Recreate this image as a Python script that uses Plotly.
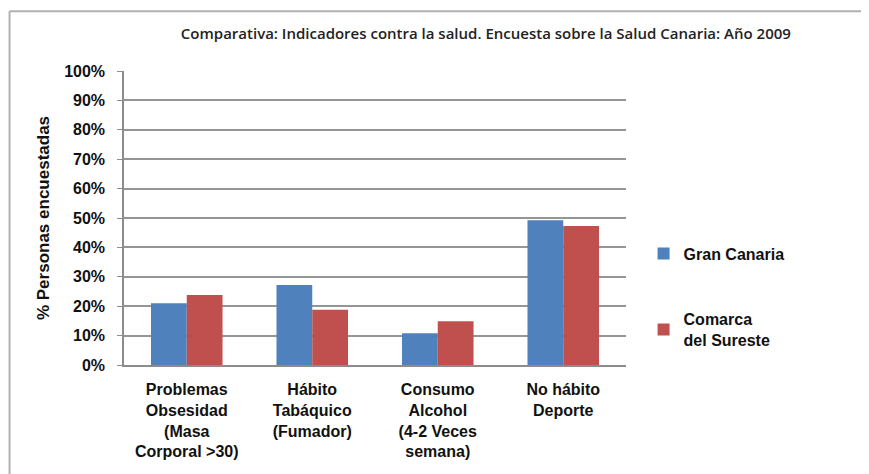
import plotly.graph_objects as go

categories = [
    "Problemas<br>Obsesidad<br>(Masa<br>Corporal >30)",
    "Hábito<br>Tabáquico<br>(Fumador)",
    "Consumo<br>Alcohol<br>(4-2 Veces<br>semana)",
    "No hábito<br>Deporte",
]
gran_canaria = [0.21, 0.272, 0.108, 0.492]
comarca_sureste = [0.238, 0.188, 0.149, 0.473]
series_names = ["Gran Canaria", "Comarca<br>del Sureste"]
y_ticks = [0, 0.1, 0.2, 0.3, 0.4, 0.5, 0.6, 0.7, 0.8, 0.9, 1.0]
y_tick_labels = ["0%", "10%", "20%", "30%", "40%", "50%", "60%", "70%", "80%", "90%", "100%"]

FONT = "Liberation Sans, Arial, sans-serif"
TFONT = "Open Sans, sans-serif"

fig = go.Figure()
fig.add_trace(go.Bar(x=categories, y=gran_canaria, name=series_names[0],
                     marker=dict(color="#4F81BD", line=dict(width=0)),
                     legendgroup="a"))
fig.add_trace(go.Bar(x=categories, y=comarca_sureste, name=series_names[1],
                     marker=dict(color="#C0504D", line=dict(width=0)),
                     legendgroup="b"))

fig.update_layout(
    width=861, height=466,
    paper_bgcolor="white", plot_bgcolor="white",
    margin=dict(l=116, r=243, t=63, b=109),
    barmode="group", bargap=0.43, bargroupgap=0,
    title=dict(text="Comparativa: Indicadores contra la salud. Encuesta sobre la Salud Canaria: Año 2009",
               x=0.555, xanchor="center", y=0.945, yanchor="middle",
               font=dict(family=TFONT, size=15, weight=600, color="#222")),
    font=dict(family=FONT, color="#222"),
    legend=dict(x=1.035, y=0.437, xanchor="left", yanchor="top",
                font=dict(family=FONT, size=16, weight="bold", color="#111"),
                tracegroupgap=42, traceorder="grouped",
                itemwidth=30, bgcolor="rgba(0,0,0,0)"),
    xaxis=dict(showline=True, linecolor="#8c8c8c", linewidth=1.5,
               ticks="", ticklabelstandoff=9,
               tickfont=dict(family=FONT, size=16, weight="bold", color="#111"),
               showgrid=False),
    yaxis=dict(range=[0, 1.0], tickvals=y_ticks, ticktext=y_tick_labels,
               showgrid=True, gridcolor="#959595", gridwidth=1.5,
               showline=True, linecolor="#8c8c8c", linewidth=1.5,
               ticks="outside", ticklen=5, tickcolor="#8c8c8c",
               ticklabelstandoff=9,
               tickfont=dict(family=FONT, size=16, weight="bold", color="#111"),
               title=dict(text="% Personas encuestadas", standoff=10,
                          font=dict(family=FONT, size=17, weight="bold", color="#111"))),
    shapes=[
        dict(type="line", xref="paper", yref="paper", x0=-0.228, x1=1.5, y0=1.203, y1=1.203,
             line=dict(color="#b0b0b0", width=2)),
        dict(type="line", xref="paper", yref="paper", x0=-0.228, x1=-0.228, y0=1.203, y1=-0.4,
             line=dict(color="#b0b0b0", width=2)),
    ],
)

fig.write_html("out.html")
